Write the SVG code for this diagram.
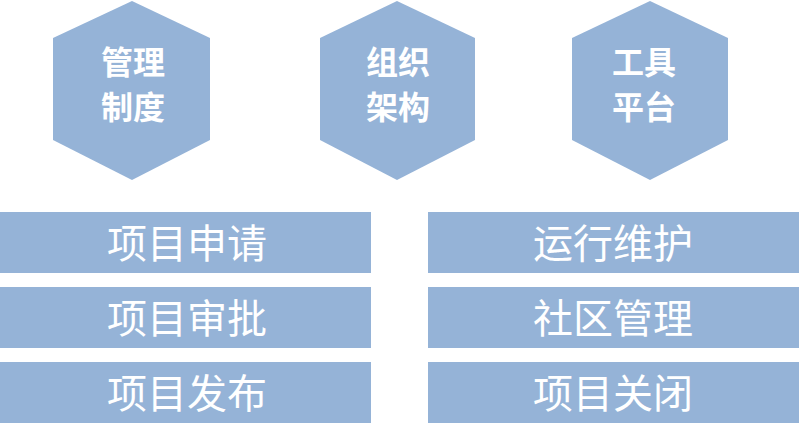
<svg xmlns="http://www.w3.org/2000/svg" width="799" height="442" viewBox="0 0 799 442">
<style>
.s{fill:#95b3d7}
.h{font-family:"Noto Sans CJK SC",sans-serif;font-weight:bold;font-size:32px;fill:#fff;text-anchor:middle}
.b{font-family:"Noto Sans CJK SC",sans-serif;font-size:40px;fill:#fff;text-anchor:middle}
</style>
<rect width="799" height="442" fill="#fff"/>
<g id="hex1"><polygon class="s" points="132,1 210,38 210,140 132,180 53,140 53,38"/><text class="h" x="133" y="74">管理</text><text class="h" x="133" y="119">制度</text></g>
<g id="hex2"><polygon class="s" points="397,1 475,38 475,140 397,180 320,140 320,38"/><text class="h" x="398" y="74">组织</text><text class="h" x="398" y="119">架构</text></g>
<g id="hex3"><polygon class="s" points="650,1 728,38 728,140 650,180 572,140 572,38"/><text class="h" x="644" y="74">工具</text><text class="h" x="644" y="119">平台</text></g>
<g id="b1"><rect class="s" x="0" y="212" width="371" height="61"/><text class="b" x="187" y="258">项目申请</text></g>
<g id="b2"><rect class="s" x="0" y="287" width="371" height="61"/><text class="b" x="187" y="333">项目审批</text></g>
<g id="b3"><rect class="s" x="0" y="362" width="371" height="61"/><text class="b" x="187" y="408">项目发布</text></g>
<g id="b4"><rect class="s" x="428" y="212" width="371" height="61"/><text class="b" x="613" y="258">运行维护</text></g>
<g id="b5"><rect class="s" x="428" y="287" width="371" height="61"/><text class="b" x="613" y="333">社区管理</text></g>
<g id="b6"><rect class="s" x="428" y="362" width="371" height="61"/><text class="b" x="613" y="408">项目关闭</text></g>
<g id="connectors"/>
</svg>
